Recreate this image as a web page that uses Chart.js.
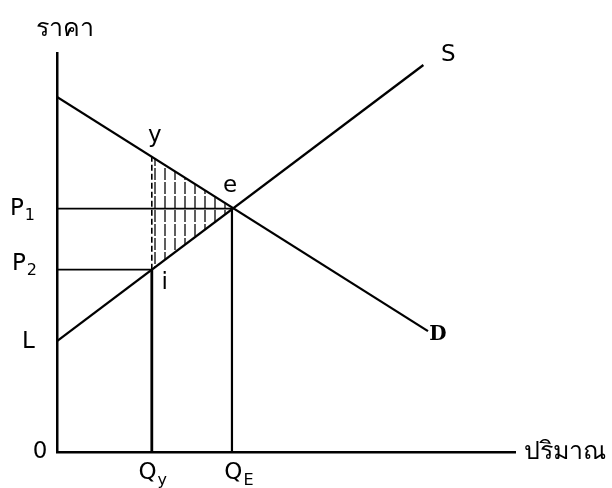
<!DOCTYPE html>
<html>
<head>
<meta charset="utf-8">
<script src="https://cdn.jsdelivr.net/npm/chart.js@4.4.1/dist/chart.umd.min.js"></script>
<style>
  html, body { margin: 0; padding: 0; background: #fff; }
  #wrap { position: relative; width: 612px; height: 488px; }
</style>
</head>
<body>
<div id="wrap"><canvas id="chart"></canvas></div>
<script>
// quantities on the x axis (arbitrary units)
const qValues = [2.07, 3.82];          // Qy, QE
const qLabels = ["Q|y", "Q|E"];
// prices on the y axis
const priceValues = [2.78, 4.57, 6.1]; // L, P2, P1
const priceLabels = ["L", "P|2", "P|1"];
// demand and supply end points
const demandX = [0, 8.1];
const demandY = [8.9, 3.03];
const supplyX = [0, 8.0];
const supplyY = [2.78, 9.7];
// demand price at Qy (point y)
const yPointPrice = 7.4;

const Qy = qValues[0], QE = qValues[1];
const L = priceValues[0], P2 = priceValues[1], P1 = priceValues[2];

const pts = (xs, ys) => xs.map((x, i) => ({ x: x, y: ys[i] }));

// vertical hatching for the triangle y-e-i
function hatchPattern() {
  const c = document.createElement("canvas");
  c.width = 10; c.height = 14;
  const g = c.getContext("2d");
  g.strokeStyle = "rgba(0,0,0,0.85)";
  g.lineWidth = 1.5;
  g.beginPath();
  g.moveTo(5, 0); g.lineTo(5, 12);
  g.stroke();
  return g.createPattern(c, "repeat");
}

const black = "#000";
const base = { borderColor: black, pointRadius: 0, fill: false, tension: 0 };

const datasets = [
  { ...base, label: "hatchTop", data: pts([Qy, QE], [yPointPrice, P1]), borderWidth: 0, fill: "+1", backgroundColor: hatchPattern() },
  { ...base, label: "hatchBottom", data: pts([Qy, QE], [P2, P1]), borderWidth: 0 },
  { ...base, label: "D", data: pts(demandX, demandY), borderWidth: 2.3 },
  { ...base, label: "S", data: pts(supplyX, supplyY), borderWidth: 2.3 },
  { ...base, label: "P1", data: pts([0, QE], [P1, P1]), borderWidth: 1.8 },
  { ...base, label: "P2", data: pts([0, Qy], [P2, P2]), borderWidth: 1.8 },
  { ...base, label: "QE", data: pts([QE, QE], [0, P1]), borderWidth: 2.2 },
  { ...base, label: "Qy", data: pts([Qy, Qy], [0, P2]), borderWidth: 2.8 },
  { ...base, label: "Qy dashed", data: pts([Qy, Qy], [P2, yPointPrice]), borderWidth: 1.6, borderDash: [6, 3] }
];

const FONT = "'DejaVu Sans', 'Liberation Sans', sans-serif";

function drawSub(ctx, text, x, y, size, align) {
  const parts = text.split("|");
  ctx.font = size + "px " + FONT;
  const w1 = ctx.measureText(parts[0]).width;
  let w2 = 0;
  if (parts[1]) { ctx.font = Math.round(size * 0.68) + "px " + FONT; w2 = ctx.measureText(parts[1]).width + 1; }
  const total = w1 + w2;
  let left = x;
  if (align === "center") left = x - total / 2;
  if (align === "right") left = x - total;
  ctx.textAlign = "left";
  ctx.textBaseline = "middle";
  ctx.font = size + "px " + FONT;
  ctx.fillText(parts[0], left, y);
  if (parts[1]) {
    ctx.font = Math.round(size * 0.68) + "px " + FONT;
    ctx.fillText(parts[1], left + w1 + 1, y + size * 0.32);
  }
}

const labelPlugin = {
  id: "labels",
  afterDraw(chart) {
    const ctx = chart.ctx;
    const xs = chart.scales.x, ys = chart.scales.y;
    ctx.save();
    ctx.fillStyle = black;
    const x0 = xs.getPixelForValue(0), y0 = ys.getPixelForValue(0);

    // axis titles
    ctx.textBaseline = "middle";
    ctx.font = "25px " + FONT;
    ctx.textAlign = "center";
    ctx.fillText("ราคา", x0 + 8, ys.top - 24);
    ctx.font = "25px " + FONT;
    ctx.textAlign = "left";
    ctx.fillText("ปริมาณ", xs.right + 9, y0);

    // origin
    ctx.font = "23px " + FONT;
    ctx.textAlign = "center";
    ctx.fillText("0", x0 - 17, y0);

    // quantity labels under the axis
    qLabels.forEach((t, i) => {
      drawSub(ctx, t, xs.getPixelForValue(qValues[i]) + (i ? 7 : 1), y0 + 21, 23, "center");
    });

    // price labels left of the axis
    const offs = [[x0 - 35, 1], [x0 - 45, -6], [x0 - 47, 0]];
    priceLabels.forEach((t, i) => {
      drawSub(ctx, t, offs[i][0], ys.getPixelForValue(priceValues[i]) + offs[i][1], 23, "left");
    });

    // point labels
    ctx.font = "23px " + FONT;
    ctx.textAlign = "center";
    ctx.fillText("y", xs.getPixelForValue(Qy) + 3, ys.getPixelForValue(yPointPrice) - 21);
    ctx.fillText("e", xs.getPixelForValue(QE) - 2, ys.getPixelForValue(P1) - 23);
    ctx.fillText("i", xs.getPixelForValue(Qy) + 13, ys.getPixelForValue(P2) + 13);
    ctx.fillText("S", xs.getPixelForValue(supplyX[1]) + 25, ys.getPixelForValue(supplyY[1]) - 10);
    ctx.font = "bold 20px 'DejaVu Serif', serif";
    ctx.fillText("D", xs.getPixelForValue(demandX[1]) + 10, ys.getPixelForValue(demandY[1]) + 4);
    ctx.restore();
  }
};

new Chart(document.getElementById("chart"), {
  type: "line",
  data: { datasets: datasets },
  plugins: [labelPlugin],
  options: {
    responsive: true,
    maintainAspectRatio: false,
    animation: false,
    layout: { padding: { left: 57, right: 97, top: 53, bottom: 36 } },
    plugins: { legend: { display: false }, tooltip: { enabled: false }, filler: { propagate: false } },
    scales: {
      x: {
        type: "linear", min: 0, max: 10,
        grid: { display: false, drawTicks: false },
        ticks: { display: false },
        border: { display: true, color: black, width: 2.5 }
      },
      y: {
        type: "linear", min: 0, max: 10,
        grid: { display: false, drawTicks: false },
        ticks: { display: false },
        border: { display: true, color: black, width: 2.5 }
      }
    }
  }
});
</script>
</body>
</html>
